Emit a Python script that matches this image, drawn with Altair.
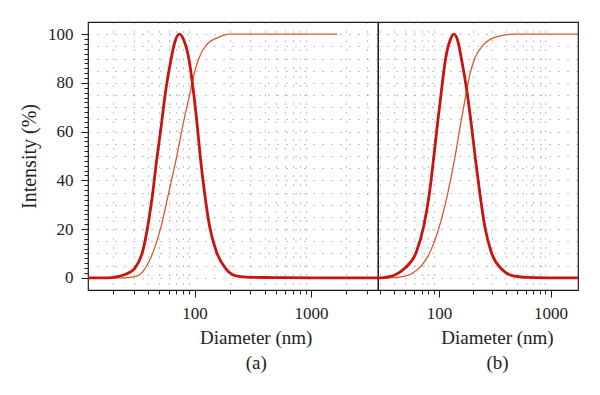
import altair as alt
import pandas as pd

# ---- data ----
# Panel (a): intensity distribution (thick) and cumulative (thin)
a_dist_d = [12.2, 18, 21.4, 26, 30.6, 35.7, 39.8, 43.9, 47.5, 51.9, 56.4, 63.1, 68, 74.4,
            81, 89.4, 98.0, 105.5, 112.6, 121.8, 134.4, 155, 186.9, 227, 300, 500, 1000, 3750]
a_dist_v = [0, 0, 0.4, 1.6, 3.8, 10.4, 21.4, 35.1, 48.8, 62.6, 76.3, 90, 97, 100,
            97.5, 90, 76.3, 62.6, 48.8, 35.1, 21.4, 10.4, 3.6, 0.8, 0.2, 0.1, 0, 0]
a_cum_d = [12.2, 25, 31.6, 41.7, 51.9, 60.2, 69.7, 79.4, 91.9, 98.6, 108.9, 125.9, 163.7, 199, 1672]
a_cum_v = [0, 0, 0.6, 7.7, 21.4, 35.1, 48.8, 62.6, 76.3, 83.2, 90, 95.5, 98.9, 100, 100]

# Panel (b)
b_dist_d = [28.5, 32, 36.0, 40.8, 49.2, 62.6, 73.3, 82.5, 89.6, 96.8, 105.1, 114.9, 126, 136.4,
            147, 159, 178.6, 195.6, 212.3, 232, 257, 295, 364, 463, 600, 900, 1760]
b_dist_v = [0, 0.1, 0.5, 1.3, 3.8, 10.4, 21.4, 35.1, 48.8, 62.6, 76.3, 90, 97.5, 100,
            97.5, 90, 76.3, 62.6, 48.8, 35.1, 21.4, 10.4, 3.6, 0.8, 0.2, 0, 0]
b_cum_d = [28.5, 36, 49.2, 77.1, 101.5, 120.5, 138.4, 155.7, 176.3, 188.7, 209.3, 248.7, 328, 463, 1760]
b_cum_v = [0, 0, 0.6, 7.7, 21.4, 35.1, 48.8, 62.6, 76.3, 83.2, 90, 95.5, 98.9, 100, 100]

x_major = [100, 1000]
x_minor_a = [20, 30, 40, 50, 60, 70, 80, 90, 200, 300, 400, 500, 600, 700, 800, 900, 2000, 3000]
x_minor_b = [30, 40, 50, 60, 70, 80, 90, 200, 300, 400, 500, 600, 700, 800, 900]
y_major = [0, 20, 40, 60, 80, 100]
y_minor = list(range(0, 101, 2))
y_grid = list(range(0, 101, 5))

THICK = "#c8140f"
THIN = "#d65a2e"
FONT = "Liberation Serif"
INK = "#222222"


def panel(dd, dv, cd, cv, xdom, xminor, width, letter, title_x, show_y):
    dist = pd.DataFrame({"d": dd, "v": dv})
    cum = pd.DataFrame({"d": cd, "v": cv})
    xs = alt.Scale(type="log", domain=xdom, nice=False)
    ys = alt.Scale(domain=[-5, 105], nice=False, zero=False)

    grid_x = alt.Axis(values=xminor, grid=True, ticks=False, labels=False, domain=False,
                      title=None, orient="bottom", gridDash=[1, 8], gridColor="#555555",
                      gridOpacity=0.7)
    grid_y = alt.Axis(values=y_grid, grid=True, ticks=False, labels=False, domain=False,
                      title=None, orient="left", gridDash=[1, 8], gridColor="#555555",
                      gridOpacity=0.7, minExtent=0)
    cum_layer = alt.Chart(cum).mark_line(color=THIN, strokeWidth=1.3, clip=True,
                                         interpolate="monotone").encode(
        x=alt.X("d:Q", scale=xs, axis=grid_x),
        y=alt.Y("v:Q", scale=ys, axis=grid_y),
    )

    main_x = alt.Axis(values=x_major, grid=False, domain=False, tickSize=7, tickColor=INK,
                      labelPadding=8, labelFont=FONT, labelFontSize=17, labelColor=INK,
                      format="d", orient="bottom",
                      title=["Diameter (nm)", letter], titleFont=FONT, titleFontSize=19,
                      titleFontWeight="normal", titleColor=INK, titleLineHeight=25,
                      titleX=title_x, titleY=38.5, titleBaseline="top", titleAlign="center")
    if show_y:
        main_y = alt.Axis(values=y_major, grid=False, domain=False, tickSize=7, tickColor=INK,
                          labelPadding=8, labelFont=FONT, labelFontSize=17, labelColor=INK,
                          orient="left", title="Intensity (%)", titleFont=FONT,
                          titleFontSize=20, titleFontWeight="normal", titleColor=INK,
                          titlePadding=8)
    else:
        main_y = None
    dist_layer = alt.Chart(dist).mark_line(color=THICK, strokeWidth=2.8, clip=True,
                                           interpolate="monotone").encode(
        x=alt.X("d:Q", scale=xs, axis=main_x),
        y=alt.Y("v:Q", scale=ys, axis=main_y),
    )

    minor_x = alt.Axis(values=xminor, grid=False, domain=False, tickSize=4, tickColor=INK,
                       labels=False, title=None, orient="bottom")
    if show_y:
        minor_y = alt.Axis(values=y_minor, grid=False, domain=False, tickSize=4, tickColor=INK,
                           labels=False, title=None, orient="left")
    else:
        minor_y = None
    tick_layer = alt.Chart(dist).mark_line(strokeOpacity=0, clip=True).encode(
        x=alt.X("d:Q", scale=xs, axis=minor_x),
        y=alt.Y("v:Q", scale=ys, axis=minor_y),
    )

    return alt.layer(cum_layer, dist_layer, tick_layer).resolve_axis(
        x="independent", y="independent"
    ).properties(width=width, height=268)


pa = panel(a_dist_d, a_dist_v, a_cum_d, a_cum_v, [12.2, 3750], x_minor_a, 290, "(a)", 167.7, True)
pb = panel(b_dist_d, b_dist_v, b_cum_d, b_cum_v, [28.5, 1760], x_minor_b, 200, "(b)", 119, False)

chart = alt.hconcat(pa, pb, spacing=0, bounds="flush").properties(
    padding={"left": 10, "top": 13, "right": 5, "bottom": 5},
    background="white",
).configure_view(stroke="#1a1a1a", strokeWidth=1.2)

chart.save("out.html", embed_options={"renderer": "svg", "actions": False})
